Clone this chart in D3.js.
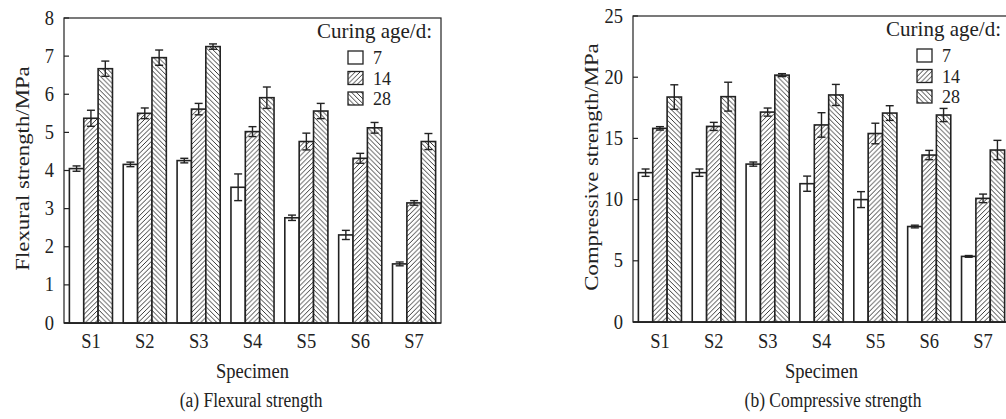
<!DOCTYPE html>
<html>
<head>
<meta charset="utf-8">
<script src="https://cdn.jsdelivr.net/npm/d3@7"></script>
<style>
  body { margin: 0; background: #fff; }
  svg text { font-family: 'Liberation Serif', 'Times New Roman', Times, 'DejaVu Serif', serif; fill: #222; }
</style>
</head>
<body>
<svg id="chart" width="1006" height="419"></svg>
<script>
// data
var specimens = ["S1", "S2", "S3", "S4", "S5", "S6", "S7"];
var ages = ["7", "14", "28"];

var flex7 = [4.05, 4.16, 4.26, 3.56, 2.76, 2.31, 1.55];
var flex14 = [5.37, 5.50, 5.61, 5.02, 4.76, 4.32, 3.15];
var flex28 = [6.67, 6.96, 7.25, 5.91, 5.56, 5.12, 4.76];
var flexErr7 = [0.07, 0.06, 0.06, 0.35, 0.07, 0.12, 0.05];
var flexErr14 = [0.21, 0.14, 0.15, 0.13, 0.22, 0.13, 0.06];
var flexErr28 = [0.20, 0.20, 0.07, 0.28, 0.20, 0.14, 0.21];

var comp7 = [12.2, 12.2, 12.9, 11.3, 10.0, 7.8, 5.36];
var comp14 = [15.82, 15.98, 17.15, 16.1, 15.4, 13.64, 10.1];
var comp28 = [18.38, 18.41, 20.17, 18.55, 17.07, 16.91, 14.05];
var compErr7 = [0.30, 0.30, 0.17, 0.62, 0.65, 0.11, 0.07];
var compErr14 = [0.14, 0.33, 0.33, 1.0, 0.84, 0.38, 0.35];
var compErr28 = [1.0, 1.18, 0.12, 0.86, 0.6, 0.54, 0.79];

var flexTicks = [0, 1, 2, 3, 4, 5, 6, 7, 8];
var compTicks = [0, 5, 10, 15, 20, 25];

var svg = d3.select("#chart");
var ink = "#222";
var serif = "'Liberation Serif', 'Times New Roman', Times, 'DejaVu Serif', serif";
var stretch = 1.14;

var defs = svg.append("defs");
function hatch(id, d) {
	var p = defs.append("pattern")
		.attr("id", id)
		.attr("patternUnits", "userSpaceOnUse")
		.attr("width", 4.8)
		.attr("height", 4.8);
	p.append("rect").attr("width", 4.8).attr("height", 4.8).attr("fill", "#fff");
	p.append("path").attr("d", d).attr("stroke", ink).attr("stroke-width", 0.9);
}
hatch("h14", "M0,4.8 L4.8,0 M-1,1 L1,-1 M3.8,5.8 L5.8,3.8");
hatch("h28", "M0,0 L4.8,4.8 M-1,3.8 L1,5.8 M3.8,-1 L5.8,1");
var fills = ["#fff", "url(#h14)", "url(#h28)"];

function stretchedText(g, x, y, size, anchor, str, sy) {
	return g.append("text")
		.attr("transform", "translate(" + x + "," + y + ") scale(1," + (sy || stretch) + ")")
		.attr("text-anchor", anchor)
		.attr("font-family", serif)
		.attr("font-size", size)
		.text(str);
}

function drawPanel(left, top, right, bottom, maxY, ticks, series, errs, yTitle) {
	var g = svg.append("g");

	var x = d3.scaleBand().domain(specimens).range([left, right]).paddingInner(0.2).paddingOuter(0.1);
	var xs = d3.scaleBand().domain(ages).range([0, x.bandwidth()]);
	var y = d3.scaleLinear().domain([0, maxY]).range([bottom, top]);

	// frame
	g.append("rect")
		.attr("x", left).attr("y", top)
		.attr("width", right - left).attr("height", bottom - top)
		.attr("fill", "none").attr("stroke", ink).attr("stroke-width", 1.2);

	// y ticks (inward) and labels
	ticks.forEach(function(t) {
		g.append("line")
			.attr("x1", left).attr("x2", left + 5)
			.attr("y1", y(t)).attr("y2", y(t))
			.attr("stroke", ink).attr("stroke-width", 1.2);
		stretchedText(g, left - 10, y(t) + 6.5, 18.5, "end", t);
	});

	// bars
	series.forEach(function(vals, k) {
		g.selectAll(null)
			.data(vals)
			.enter().append("rect")
			.attr("x", function(d, i) { return x(specimens[i]) + xs(ages[k]); })
			.attr("y", function(d) { return y(d); })
			.attr("width", xs.bandwidth())
			.attr("height", function(d) { return y(0) - y(d); })
			.attr("fill", fills[k])
			.attr("stroke", ink)
			.attr("stroke-width", 1.6);
	});

	// error bars
	series.forEach(function(vals, k) {
		vals.forEach(function(v, i) {
			var cx = x(specimens[i]) + xs(ages[k]) + xs.bandwidth() / 2;
			var e = errs[k][i];
			g.append("line")
				.attr("x1", cx).attr("x2", cx)
				.attr("y1", y(v + e)).attr("y2", y(v - e))
				.attr("stroke", ink).attr("stroke-width", 1.4);
			[v + e, v - e].forEach(function(c) {
				g.append("line")
					.attr("x1", cx - 4).attr("x2", cx + 4)
					.attr("y1", y(c)).attr("y2", y(c))
					.attr("stroke", ink).attr("stroke-width", 1.4);
			});
		});
	});

	// baseline over the bars
	g.append("line")
		.attr("x1", left).attr("x2", right)
		.attr("y1", bottom).attr("y2", bottom)
		.attr("stroke", ink).attr("stroke-width", 1.4);

	// x labels
	specimens.forEach(function(s) {
		stretchedText(g, x(s) + x.bandwidth() / 2, 348, 18.5, "middle", s);
	});
	stretchedText(g, (left + right) / 2, 378, 18.5, "middle", "Specimen");

	// y title
	g.append("text")
		.attr("transform", "translate(" + (left - 35) + "," + ((top + bottom) / 2 - 2) + ") scale(1,1.2) rotate(-90)")
		.attr("text-anchor", "middle")
		.attr("font-family", serif)
		.attr("font-size", 19)
		.text(yTitle);

	// legend
	stretchedText(g, right - 9, top + 20, 21, "end", "Curing age/d:", 1.0);
	ages.forEach(function(a, k) {
		var by = top + 33 + k * 20.5;
		g.append("rect")
			.attr("x", right - 93).attr("y", by)
			.attr("width", 15).attr("height", 13)
			.attr("fill", fills[k]).attr("stroke", ink).attr("stroke-width", 1.3);
		stretchedText(g, right - 68, by + 13, 18, "start", a, 1.0);
	});

	return g;
}

drawPanel(64, 18, 441, 323, 8, flexTicks, [flex7, flex14, flex28], [flexErr7, flexErr14, flexErr28],
	"Flexural strength/MPa");
drawPanel(633, 16, 1010, 322, 25, compTicks, [comp7, comp14, comp28], [compErr7, compErr14, compErr28],
	"Compressive strength/MPa");

// captions
stretchedText(svg, 251, 407, 17.5, "middle", "(a) Flexural strength");
stretchedText(svg, 833, 407, 17.5, "middle", "(b) Compressive strength");
</script>
</body>
</html>
